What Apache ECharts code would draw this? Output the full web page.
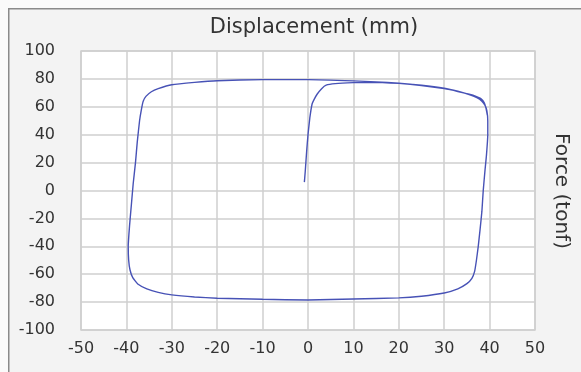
<!DOCTYPE html>
<html>
<head>
<meta charset="utf-8">
<script src="https://cdn.jsdelivr.net/npm/echarts@6/dist/echarts.min.js"></script>
<style>
  html, body { margin: 0; padding: 0; background: #fafafa; }
  #chart { width: 581px; height: 372px; }
</style>
</head>
<body>
<div id="chart"></div>
<script>
// hysteresis trace: displacement (mm) / force (tonf)
const dispX = [
  -0.8, -0.6, -0.3, 0, 0.4, 0.9, 1.3, 2, 3, 4, 6, 10, 14, 20, 25, 30, 33, 35.5, 37.2, 38.3, 39, 39.4,
  39.6, 39.6, 39.3, 39, 38.6, 38.3, 37.9, 37.5, 37.1, 36.7, 36.1, 35, 33, 30, 25, 20, 10, 0,
  -10, -20, -25, -30, -33, -35.5, -37.5, -38.6, -39.2, -39.5, -39.6, -39.3, -38.9, -38.5, -38, -37.6,
  -37.1, -36.7, -36.3, -35.7, -34.5, -33, -30, -25, -20, -10, 0, 10, 15, 20, 25, 30, 33, 35.5,
  37, 38, 38.8, 39.2, 39.5
];
const forceY = [
  6, 14, 28, 40, 52, 62, 65, 69, 73, 75.5, 76.6, 77.3, 77.6, 76.8, 75.5, 73.4, 71.2, 68.8, 66.5, 64, 61, 57,
  50, 40, 25, 15, 0, -15, -28, -40, -50, -58, -63, -66.8, -70.5, -73.5, -75.8, -77, -77.8, -78.5,
  -78, -77.2, -76.3, -74.8, -73, -70.5, -67, -62.5, -57, -50, -40, -25, -10, 5, 20, 35,
  50, 58, 64, 67.5, 70.8, 73, 75.8, 77.5, 78.7, 79.5, 79.5, 78.6, 77.8, 76.9, 75.3, 73, 71, 69,
  67.5, 66, 63, 59, 54
];

const points = dispX.map((x, i) => [x, forceY[i]]);
const FONT = '"DejaVu Sans", Arial, sans-serif';

let myChart = echarts.init(document.getElementById('chart'));
let option = {
  backgroundColor: '#fafafa',
  animation: false,
  graphic: [
    {
      // outer frame
      type: 'rect',
      left: 8,
      top: 8,
      z: -10,
      shape: { width: 600, height: 400 },
      style: { fill: '#f3f3f3', stroke: '#8a8a8a', lineWidth: 1.5 },
    },
    {
      type: 'text',
      x: 561,
      y: 191,
      rotation: -Math.PI / 2,
      style: {
        text: 'Force (tonf)',
        fill: '#333',
        align: 'center',
        verticalAlign: 'middle',
        font: '20px ' + FONT,
      },
    },
  ],
  title: {
    text: 'Displacement (mm)',
    left: 309,
    top: 12,
    textAlign: 'center',
    textStyle: {
      fontFamily: FONT,
      fontSize: 21,
      fontWeight: 'normal',
      color: '#333',
    },
  },
  grid: {
    left: 81,
    right: 46,
    top: 51,
    bottom: 42,
    show: true,
    backgroundColor: '#fff',
    borderColor: '#cfcfcf',
    borderWidth: 1.5,
  },
  xAxis: {
    type: 'value',
    min: -50,
    max: 50,
    interval: 10,
    axisLine: { show: false },
    axisTick: { show: false },
    splitLine: { lineStyle: { color: '#cfcfcf', width: 1.5 } },
    axisLabel: {
      color: '#333',
      fontSize: 16,
      fontFamily: FONT,
      margin: 11,
    },
  },
  yAxis: {
    type: 'value',
    min: -100,
    max: 100,
    interval: 20,
    axisLine: { show: false },
    axisTick: { show: false },
    splitLine: { lineStyle: { color: '#cfcfcf', width: 1.5 } },
    axisLabel: {
      color: '#333',
      fontSize: 16,
      fontFamily: FONT,
      margin: 26,
    },
  },
  series: [
    {
      type: 'line',
      data: points,
      showSymbol: false,
      smooth: 0.12,
      lineStyle: { color: '#4752b6', width: 1.4 },
    },
  ],
};
myChart.setOption(option);
</script>
</body>
</html>
